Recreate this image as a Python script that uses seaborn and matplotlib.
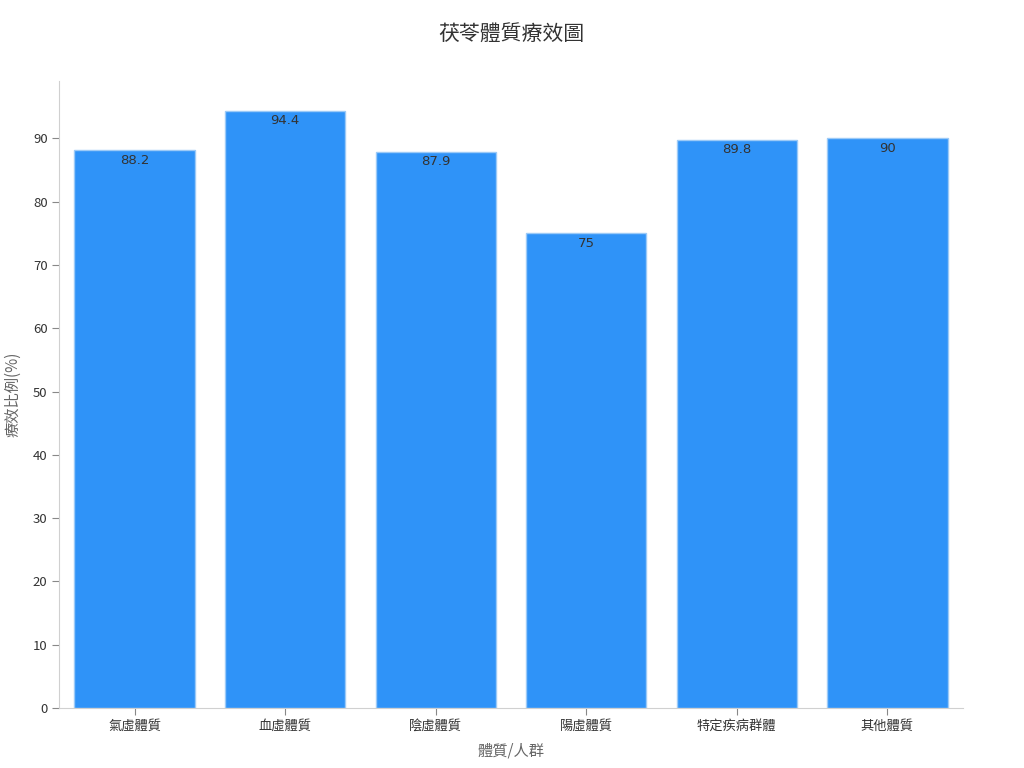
import pandas as pd
import seaborn as sns
import matplotlib.pyplot as plt

# chart data
categories = ['氣虛體質', '血虛體質', '陰虛體質', '陽虛體質', '特定疾病群體', '其他體質']
efficacy = [88.2, 94.4, 87.9, 75, 89.8, 90]

df = pd.DataFrame({'group': categories, 'rate': efficacy})

sns.set_style('white')
plt.rcParams['font.family'] = ['Noto Sans CJK TC', 'DejaVu Sans']

fig, ax = plt.subplots(figsize=(10.24, 7.68), dpi=100)
fig.subplots_adjust(left=0.058, right=0.94, top=0.895, bottom=0.078)

sns.barplot(data=df, x='group', y='rate', color='#2f93f8', saturation=1,
            width=0.8, edgecolor='#9ccaf7', linewidth=1, ax=ax)

for i, v in enumerate(efficacy):
    ax.text(i, v - 0.6, f'{v:g}', ha='center', va='top', fontsize=9.5,
            color='#333333', family='DejaVu Sans')

ax.set_xlim(-0.5, 5.5)
ax.set_ylim(0, max(efficacy) * 1.05)
ax.set_yticks(range(0, 100, 10))
ax.set_title('茯苓體質療效圖', fontsize=15, color='#333333', pad=29)
ax.set_xlabel('體質/人群', fontsize=11, color='#666666', labelpad=7)
ax.set_ylabel('療效比例(%)', fontsize=11, color='#666666', labelpad=8)

for side in ['top', 'right']:
    ax.spines[side].set_visible(False)
for side in ['left', 'bottom']:
    ax.spines[side].set_color('#d0d0d0')
ax.tick_params(axis='both', which='both', length=5, color='#888888',
               labelsize=9.5, labelcolor='#333333', bottom=True, left=True)

plt.savefig('out.png', dpi=100)
